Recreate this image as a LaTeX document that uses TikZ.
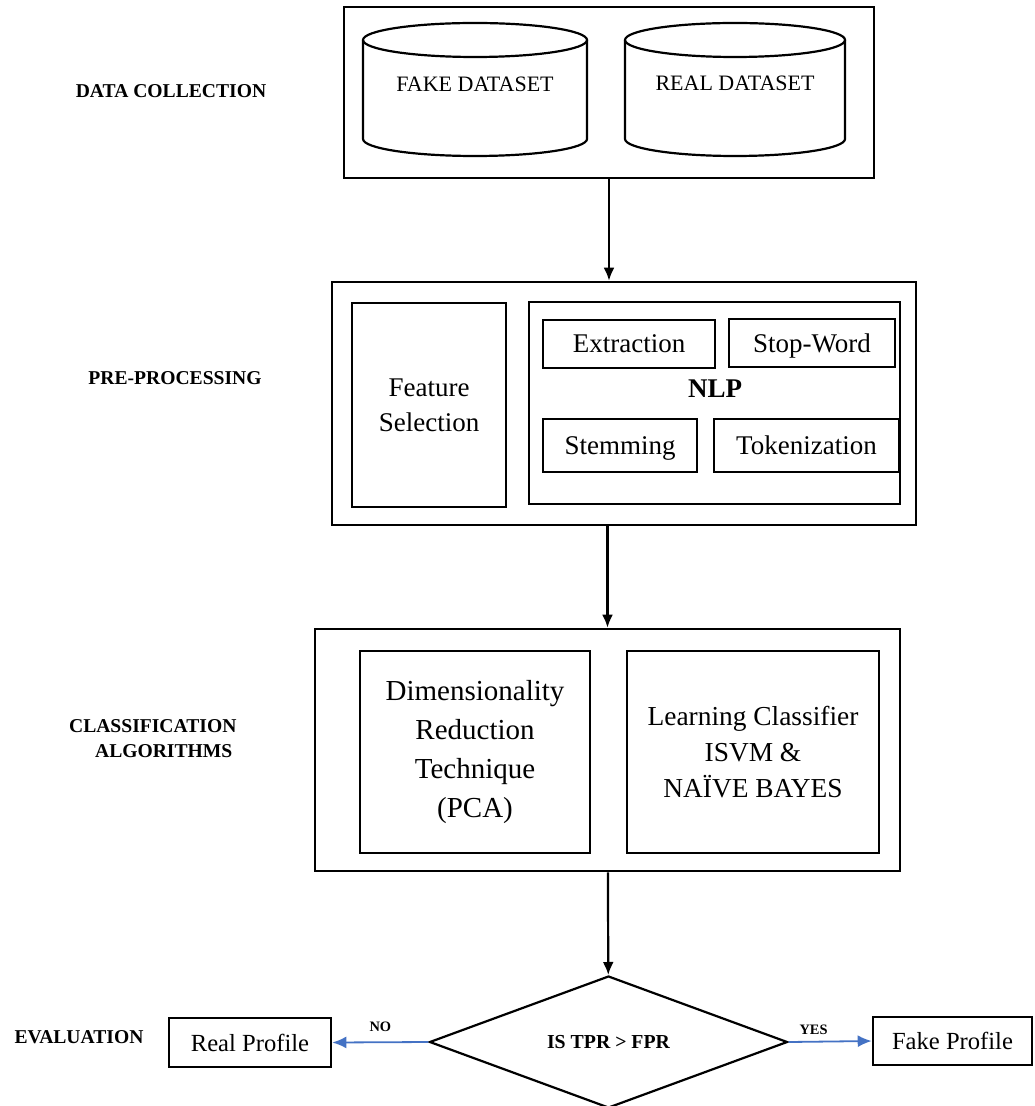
\documentclass[tikz,border=0pt]{standalone}
\usepackage{fontspec}
\setmainfont{Liberation Serif}
\usetikzlibrary{arrows.meta, shapes.geometric, positioning}
\definecolor{flowblue}{HTML}{4472C4}

\begin{document}
\begin{tikzpicture}[x=0.5pt, y=-0.5pt, line width=1.1pt, >={Latex[length=6.5pt, width=5.5pt]},
        box/.style={draw, rectangle, line width=1.3pt, inner sep=0pt},
        stage/.style={font=\bfseries\fontsize{9.8pt}{12.5pt}\selectfont, inner sep=0pt},
        big/.style={font=\fontsize{13.5pt}{17.5pt}\selectfont, align=center, text depth=0pt},
        blueflow/.style={flowblue, line width=0.9pt, -{Latex[length=7pt, width=6pt]}},
        yesno/.style={font=\bfseries\fontsize{7.2pt}{8pt}\selectfont, black, inner sep=0pt}]
    \useasboundingbox (0,0) rectangle (1034,1106);

    % stage names on the left
    \node[stage, anchor=base] (lblcol) at (171,98) {DATA COLLECTION};
    \node[stage, anchor=base] (lblpre) at (175,385) {PRE-PROCESSING};
    \node[stage, anchor=west, align=left] (lblcls) at (68,739) {CLASSIFICATION\\\hspace*{13pt}ALGORITHMS};
    \node[stage, anchor=base] (lbleval) at (79,1043) {EVALUATION};

    % data collection
    \node[box, minimum width=265pt, minimum height=85.5pt] (data) at (609,92.5) {};
    \draw (363,40) -- (363,139) arc[start angle=180, end angle=0, x radius=112, y radius=17] -- (587,40);
    \draw (475,40) ellipse [x radius=112, y radius=17];
    \node[font=\fontsize{11pt}{13pt}\selectfont, anchor=base] (fakedb) at (475,92) {FAKE DATASET};
    \draw (625,40) -- (625,139) arc[start angle=180, end angle=0, x radius=110, y radius=17] -- (845,40);
    \draw (735,40) ellipse [x radius=110, y radius=17];
    \node[font=\fontsize{11pt}{13pt}\selectfont, anchor=base] (realdb) at (735,91) {REAL DATASET};

    % pre-processing
    \node[box, minimum width=292pt, minimum height=121.5pt] (pre) at (624,403.5) {};
    \node[box, big, minimum width=77pt, minimum height=102pt] (feat) at (429,405) {Feature\\Selection};
    \node[box, minimum width=185.5pt, minimum height=101pt] (nlp) at (714.5,403) {};
    \node[font=\bfseries\fontsize{13.5pt}{16pt}\selectfont] (nlplbl) at (715,389) {NLP};
    \node[box, big, minimum width=86pt, minimum height=24pt] (extr) at (629,344) {Extraction};
    \node[box, big, minimum width=83pt, minimum height=24pt] (stop) at (812,343) {Stop-Word};
    \node[box, big, minimum width=77pt, minimum height=26.5pt] (stem) at (620,445.5) {Stemming};
    \node[box, big, minimum width=92.5pt, minimum height=26.5pt] (token) at (806.5,445.5) {Tokenization};

    % classification
    \node[box, minimum width=292.5pt, minimum height=121pt] (cls) at (607.5,750) {};
    \node[box, font=\fontsize{14.5pt}{19.5pt}\selectfont, align=center, minimum width=115pt, minimum height=101pt] (pca) at (475,752) {Dimensionality\\Reduction\\Technique\\(PCA)};
    \node[box, font=\fontsize{13.7pt}{18pt}\selectfont, align=center, minimum width=126pt, minimum height=101pt] (learn) at (753,752) {Learning Classifier\\ISVM \&\\NAÏVE BAYES};

    % evaluation
    \node[draw, diamond, aspect=2.7, inner sep=0pt, minimum width=179pt, minimum height=66pt, font=\bfseries\fontsize{9.9pt}{12pt}\selectfont] (dec) at (608.5,1042) {IS TPR > FPR};
    \node[box, font=\fontsize{12.3pt}{14pt}\selectfont, minimum width=81pt, minimum height=24.5pt] (real) at (250,1042.5) {Real Profile};
    \node[box, font=\fontsize{12.3pt}{14pt}\selectfont, minimum width=79.5pt, minimum height=24pt] (fake) at (952.5,1041) {Fake Profile};

    \draw[->] (data) -- (data |- pre.north);
    \draw[->] (cls |- pre.south) -- (cls);
    \draw[->] (cls) -- (dec);
    \draw[blueflow] (dec.west) -- node[yesno, midway, above=5pt] {NO} (real.east);
    \draw[blueflow] (dec.east) -- node[yesno, pos=0.3, above=3pt] {YES} (fake.west);
\end{tikzpicture}
\end{document}
